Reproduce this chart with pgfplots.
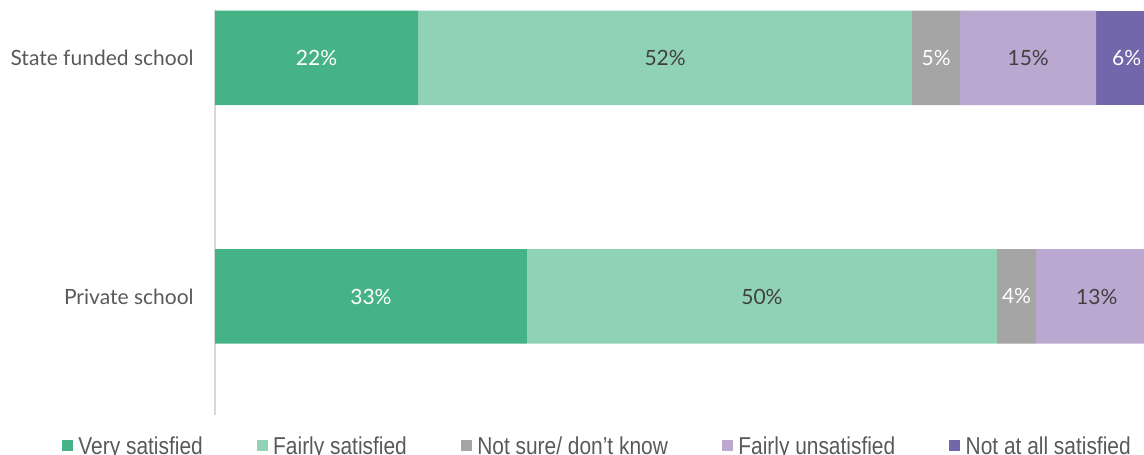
\documentclass[border=0pt]{standalone}
\usepackage{fontspec}
\setmainfont{Lato}
\newfontfamily\narrowfont{Liberation Sans}[FakeStretch=0.857]
\usepackage{pgfplots}
\usepackage{pgfplotstable}
\pgfplotsset{compat=1.18}
\usetikzlibrary{calc}

\definecolor{c1}{HTML}{46B387}
\definecolor{c2}{HTML}{90D2B5}
\definecolor{c3}{HTML}{A5A5A5}
\definecolor{c4}{HTML}{BBA8D1}
\definecolor{c5}{HTML}{7367AC}
\definecolor{txt}{HTML}{595959}
\definecolor{dtxt}{HTML}{404040}

% y = 1: State funded school, y = 0: Private school
\pgfplotstableread{
y v
1 21.55
0 33.10
}\tA
\pgfplotstableread{
y v
1 52.44
0 49.90
}\tB
\pgfplotstableread{
y v
1 5.10
0 4.14
}\tC
\pgfplotstableread{
y v
1 14.44
0 12.90
}\tD
\pgfplotstableread{
y v
1 6.47
0 0
}\tE
% label positions (segment centres) and printed values
\pgfplotstableread{
x y lab
10.78 1 22
76.54 1 5
96.77 1 6
16.55 0 33
85.07 0 4
}\tLw
\pgfplotstableread{
x y lab
47.77 1 52
86.31 1 15
58.05 0 50
93.59 0 13
}\tLd

\begin{document}
\begin{tikzpicture}
\begin{axis}[
  name=main,
  x=4.71pt, y=119.25pt,
  xmin=0, xmax=98.6, ymin=-0.497, ymax=1.201,
  xbar stacked, bar width=47.25pt,
  hide x axis,
  axis y line*=left,
  y axis line style={draw=black!15, line width=1pt, -},
  ytick={0,1}, yticklabels={Private school, State funded school},
  major tick length=0pt,
  yticklabel style={font=\fontsize{10.5}{12}\selectfont, text=txt, inner sep=0pt, xshift=-10.5pt},
  clip=true,
  legend columns=5,
  legend image code/.code={\fill[#1,draw=none] (0pt,-1.8pt) rectangle (5.6pt,3.8pt);},
  legend style={draw=none, fill=none, inner sep=0pt, outer sep=0pt,
    at={(axis description cs:-0.1647,-0.1057)}, anchor=south west,
    font=\narrowfont\fontsize{12.2}{14}\selectfont, text=txt,
    nodes={inner sep=0pt},
    /tikz/every odd column/.append style={column sep=2.6pt},
    /tikz/every even column/.append style={column sep=27pt}},
]
\addplot[fill=c1, draw=none] table[x=v, y=y] {\tA};
\addplot[fill=c2, draw=none] table[x=v, y=y] {\tB};
\addplot[fill=c3, draw=none] table[x=v, y=y] {\tC};
\addplot[fill=c4, draw=none] table[x=v, y=y] {\tD};
\addplot[fill=c5, draw=none] table[x=v, y=y] {\tE};
\legend{Very satisfied, Fairly satisfied, Not sure/ don’t know, Fairly unsatisfied, Not at all satisfied}
\end{axis}
\begin{axis}[
  x=4.71pt, y=119.25pt,
  xmin=0, xmax=98.6, ymin=-0.497, ymax=1.201,
  hide axis, clip=false,
]
\addplot[scatter, only marks, mark=*, mark size=0pt, mark options={draw=none, fill=none},
  point meta=explicit symbolic,
  scatter/@pre marker code/.code={\node[text=white, font=\fontsize{10.5}{12}\selectfont] {\pgfplotspointmeta\%};},
  scatter/@post marker code/.code={}]
  table[x=x, y=y, meta=lab] {\tLw};
\addplot[scatter, only marks, mark=*, mark size=0pt, mark options={draw=none, fill=none},
  point meta=explicit symbolic,
  scatter/@pre marker code/.code={\node[text=dtxt, font=\fontsize{10.5}{12}\selectfont] {\pgfplotspointmeta\%};},
  scatter/@post marker code/.code={}]
  table[x=x, y=y, meta=lab] {\tLd};
\end{axis}
\pgfresetboundingbox
\path[use as bounding box] ($(main.south west)+(-107.5pt,-19.5pt)$) rectangle ($(main.north east)+(0pt,5pt)$);
\end{tikzpicture}
\end{document}
